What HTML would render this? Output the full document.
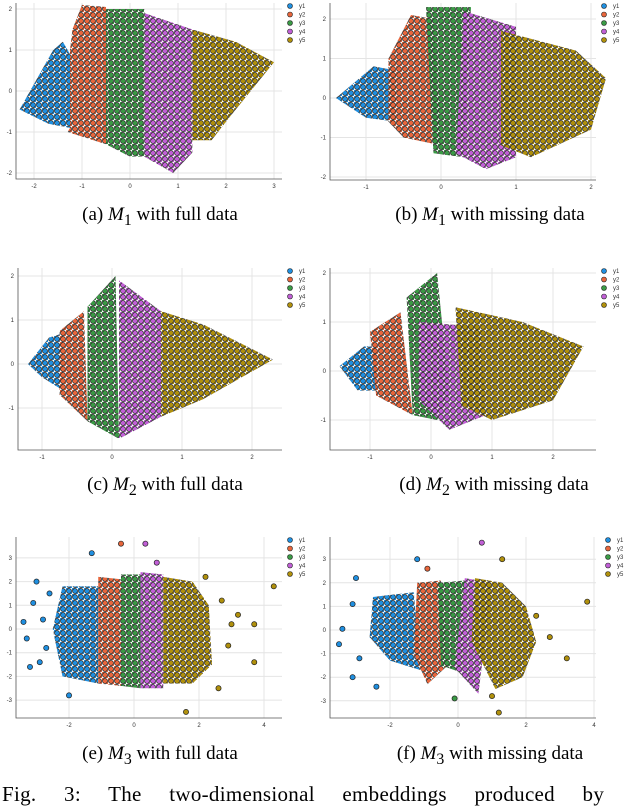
<!DOCTYPE html>
<html><head><meta charset="utf-8">
<style>
html,body{margin:0;padding:0;background:#fff;}
body{width:640px;height:800px;overflow:hidden;position:relative;font-family:"Liberation Serif",serif;}
.cap{position:absolute;font-size:19px;color:#000;white-space:nowrap;transform:translateX(-50%);}
.cap i{font-style:italic;}
#fig{position:absolute;left:2px;top:782px;width:636px;font-size:21px;white-space:nowrap;letter-spacing:0.3px;word-spacing:22px;}
</style></head><body>
<svg id="chart" width="640" height="800" style="position:absolute;left:0;top:0">
<defs id="defs"></defs>
</svg>
<div class="cap" style="left:160px;top:204px">(a) <i>M</i><sub>1</sub> with full data</div>
<div class="cap" style="left:490px;top:204px">(b) <i>M</i><sub>1</sub> with missing data</div>
<div class="cap" style="left:165px;top:474px">(c) <i>M</i><sub>2</sub> with full data</div>
<div class="cap" style="left:494px;top:474px">(d) <i>M</i><sub>2</sub> with missing data</div>
<div class="cap" style="left:160px;top:743px">(e) <i>M</i><sub>3</sub> with full data</div>
<div class="cap" style="left:490px;top:743px">(f) <i>M</i><sub>3</sub> with missing data</div>
<div id="fig">Fig. 3: The two-dimensional embeddings produced by</div>
<script>
const classes=["y1","y2","y3","y4","y5"];
const colors=["#1f8fe0","#e8663c","#3a9a45","#c15fd6","#b0900c"];
// cluster outlines (data coords), per panel, per class
const regionsA=[[[-2.3,-0.45],[-1.6,1.0],[-1.4,1.2],[-1.25,0.9],[-1.25,-0.9],[-1.7,-0.8]],
[[-1.25,1.0],[-1.2,1.5],[-1.0,2.1],[-0.5,2.05],[-0.5,-1.3],[-1.3,-1.0],[-1.25,-0.9]],
[[-0.5,2.0],[0.3,2.0],[0.3,-1.6],[0.0,-1.6],[-0.5,-1.3]],
[[0.3,1.9],[1.3,1.5],[1.3,-1.5],[0.9,-2.0],[0.3,-1.6]],
[[1.3,1.5],[2.2,1.2],[3.0,0.7],[2.1,-0.6],[1.7,-1.2],[1.3,-1.2]]];
const regionsB=[[[-1.4,0],[-0.9,0.8],[-0.6,0.7],[-0.6,-0.6],[-1.0,-0.5]],
[[-0.7,1.0],[-0.4,2.1],[-0.1,2.0],[0,-1.2],[-0.5,-1.0],[-0.7,-0.6]],
[[-0.2,2.3],[0.4,2.3],[0.3,-1.5],[-0.1,-1.4]],
[[0.3,2.2],[1.0,1.8],[1.0,-1.5],[0.6,-1.8],[0.2,-1.4]],
[[0.8,1.7],[1.8,1.2],[2.2,0.5],[2.0,-0.8],[1.2,-1.5],[0.8,-1.2]]];
const regionsC=[[[-1.2,0],[-0.9,0.6],[-0.7,0.7],[-0.7,-0.6],[-1.0,-0.3]],
[[-0.75,0.75],[-0.4,1.2],[-0.35,-1.3],[-0.75,-0.7]],
[[-0.35,1.3],[0.05,2.0],[0.1,-1.7],[-0.35,-1.3]],
[[0.1,1.9],[0.7,1.2],[0.7,-1.2],[0.1,-1.7]],
[[0.7,1.2],[1.3,0.9],[2.3,0.1],[1.3,-0.8],[0.7,-1.2]]];
const regionsD=[[[-1.5,0.1],[-1.1,0.5],[-0.9,0.5],[-0.9,-0.4],[-1.2,-0.4]],
[[-1.0,0.8],[-0.5,1.2],[-0.3,-0.9],[-0.9,-0.5]],
[[-0.4,1.5],[0.1,2.0],[0.3,-0.5],[0.1,-1.0],[-0.3,-0.9]],
[[-0.2,1.0],[0.8,0.9],[0.9,-0.9],[0.3,-1.2],[-0.2,-0.6]],
[[0.4,1.3],[1.5,1.0],[2.5,0.5],[2.0,-0.6],[1.0,-1.0],[0.5,-0.7]]];
const regionsE=[[[-2.2,1.8],[-1.1,1.8],[-1.1,-2.3],[-2.2,-2.0],[-2.5,0]],
[[-1.1,2.2],[-0.4,2.1],[-0.4,-2.4],[-1.1,-2.3]],
[[-0.4,2.3],[0.2,2.3],[0.2,-2.5],[-0.4,-2.4]],
[[0.2,2.4],[0.9,2.3],[0.9,-2.5],[0.2,-2.5]],
[[0.9,2.2],[1.8,2.0],[2.3,1.0],[2.4,-1.5],[1.8,-2.3],[0.9,-2.3]]];
const regionsF=[[[-2.5,1.4],[-1.3,1.6],[-1.1,-1.7],[-2.0,-1.3],[-2.6,-0.3]],
[[-1.2,2.0],[-0.5,2.1],[-0.3,-1.5],[-0.9,-2.3],[-1.3,-1.0]],
[[-0.6,2.0],[0.2,2.1],[0.1,-1.8],[-0.5,-1.5]],
[[0.2,2.2],[1.0,2.0],[0.6,-2.7],[-0.1,-1.6]],
[[0.5,2.2],[1.3,2.0],[2.0,1.0],[2.3,-0.5],[1.9,-2.0],[1.1,-2.5],[0.4,-0.5]]];
// outlier points [x,y,classIndex]
const outliersE=[[-3.4,0.3,0],[-3.3,-0.4,0],[-3.0,2.0,0],[-3.1,1.1,0],[-2.9,-1.4,0],[-3.2,-1.6,0],[-2.6,1.5,0],[-1.3,3.2,0],[-2.0,-2.8,0],[-2.7,-0.8,0],[-2.8,0.4,0],
[4.3,1.8,4],[3.7,0.2,4],[3.7,-1.4,4],[3.2,0.6,4],[2.9,-0.7,4],[2.6,-2.5,4],[1.6,-3.5,4],[2.2,2.2,4],[3.0,0.2,4],[2.7,1.2,4],[-0.4,3.6,1],[0.35,3.6,3],[0.7,2.8,3]];
const outliersF=[[-3.5,-0.6,0],[-3.4,0.05,0],[-3.0,2.2,0],[-3.1,1.1,0],[-3.1,-2.0,0],[-2.4,-2.4,0],[-1.2,3.0,0],[-2.9,-1.2,0],
[3.8,1.2,4],[3.2,-1.2,4],[2.7,-0.3,4],[1.2,-3.5,4],[1.3,3.0,4],[2.3,0.6,4],[1.0,-2.8,4],
[0.7,3.7,3],[-0.9,2.6,1],[-0.1,-2.9,2]];
// tick labels
const ticksA_x=[-2,-1,0,1,2,3], ticksA_y=[2,1,0,-1,-2];
const ticksB_x=[-1,0,1,2], ticksB_y=[2,1,0,-1,-2];
const ticksC_x=[-1,0,1,2], ticksC_y=[2,1,0,-1];
const ticksD_x=[-1,0,1,2], ticksD_y=[2,1,0,-1];
const ticksE_x=[-2,0,2,4], ticksE_y=[3,2,1,0,-1,-2,-3];
const ticksF_x=[-2,0,2,4], ticksF_y=[3,2,1,0,-1,-2,-3];

const NS="http://www.w3.org/2000/svg";
const svg=document.getElementById('chart'), defs=document.getElementById('defs');
function mk(t,a,p){const e=document.createElementNS(NS,t);for(const k in a)e.setAttribute(k,a[k]);(p||svg).appendChild(e);return e;}
colors.forEach((c,i)=>{
 const p=mk('pattern',{id:'pat'+i,width:6,height:6,patternUnits:'userSpaceOnUse'},defs);
 mk('rect',{width:6,height:6,fill:'#fff',opacity:0.25},p);
 mk('circle',{cx:3,cy:3,r:2.5,fill:c,stroke:'#222','stroke-width':0.7},p);
 mk('circle',{cx:0,cy:0,r:2.0,fill:c,stroke:'#222','stroke-width':0.6},p);
 mk('circle',{cx:6,cy:6,r:2.0,fill:c,stroke:'#222','stroke-width':0.6},p);
});
const panels=[
 {id:'a',L:16,R:282,T:3,B:179,x0:130,sx:48,y0:91,sy:41,regions:regionsA,out:[],tx:ticksA_x,ty:ticksA_y,lx:290},
 {id:'b',L:330,R:596,T:3,B:180,x0:441,sx:75,y0:98,sy:39.5,regions:regionsB,out:[],tx:ticksB_x,ty:ticksB_y,lx:604},
 {id:'c',L:18,R:282,T:268,B:450,x0:112,sx:70,y0:364,sy:44,regions:regionsC,out:[],tx:ticksC_x,ty:ticksC_y,lx:290},
 {id:'d',L:330,R:596,T:268,B:450,x0:431,sx:61,y0:371,sy:49,regions:regionsD,out:[],tx:ticksD_x,ty:ticksD_y,lx:604},
 {id:'e',L:16,R:282,T:537,B:718,x0:134,sx:32.5,y0:629,sy:23.7,regions:regionsE,out:outliersE,tx:ticksE_x,ty:ticksE_y,lx:290},
 {id:'f',L:330,R:596,T:537,B:718,x0:458,sx:34,y0:630,sy:23.6,regions:regionsF,out:outliersF,tx:ticksF_x,ty:ticksF_y,lx:608}];
panels.forEach(P=>{
 const X=v=>P.x0+P.sx*v, Y=v=>P.y0-P.sy*v;
 const g=mk('g',{});
 
 
 P.tx.forEach(t=>{const x=X(t);if(x<P.L||x>P.R)return;
  mk('line',{x1:x,x2:x,y1:P.T,y2:P.B,stroke:'#e4e4e4','stroke-width':1},g);
  const tl=mk('text',{x:x,y:P.B+9,'font-size':6,'text-anchor':'middle',fill:'#333','font-family':'Liberation Sans, sans-serif'},g);
  tl.textContent=t;
  
  });
 P.ty.forEach(t=>{const y=Y(t);if(y<P.T||y>P.B)return;
  mk('line',{x1:P.L,x2:P.R,y1:y,y2:y,stroke:'#e4e4e4','stroke-width':1},g);
  const tl=mk('text',{x:P.L-4,y:y+2,'font-size':6,'text-anchor':'end',fill:'#333','font-family':'Liberation Sans, sans-serif'},g);
  tl.textContent=t;
  
  });
 mk('path',{d:`M${P.L},${P.T}V${P.B}H${P.R}`,fill:'none',stroke:'#555','stroke-width':0.8},g);
 P.regions.forEach((poly,i)=>{
  const pg=mk('polygon',{points:poly.map(p=>X(p[0])+','+Y(p[1])).join(' '),fill:'url(#pat'+i+')'},g);
  
  });
 P.out.forEach(p=>{
  const c=mk('circle',{cx:X(p[0]),cy:Y(p[1]),r:2.6,fill:colors[p[2]],stroke:'#222','stroke-width':0.7},g);
  
  });
 classes.forEach((cl,i)=>{
  const y=P.T+3+i*8.5;
  const lg=mk('g',{},g);
  
  
  mk('circle',{cx:P.lx,cy:y,r:2.5,fill:colors[i],stroke:'#222','stroke-width':0.6},lg);
  const t=mk('text',{x:P.lx+9,y:y+2,'font-size':6,fill:'#333','font-family':'Liberation Sans, sans-serif'},lg);
  t.textContent=cl;});
});
</script>
</body></html>
